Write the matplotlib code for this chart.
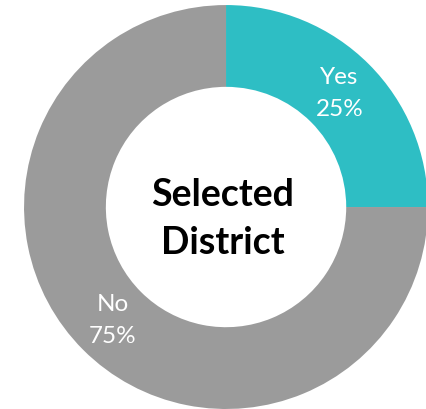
import matplotlib
matplotlib.use("Agg")
import matplotlib.pyplot as plt

categories = ["Yes", "No"]
values = [25, 75]
colors = ["#2EBEC4", "#9B9B9B"]
center_title = "Selected\nDistrict"

plt.rcParams['font.family'] = ['Lato', 'DejaVu Sans']

fig = plt.figure(figsize=(4.26, 4.09), dpi=100)
ax = fig.add_axes([0, 0, 1, 1])

labels = [f"{c}\n{v}%" for c, v in zip(categories, values)]
wedges, texts = ax.pie(values, colors=colors, labels=labels, startangle=90,
                       counterclock=False, radius=1.0, labeldistance=0.795,
                       wedgeprops=dict(width=0.405, linewidth=0),
                       textprops=dict(color="white", fontsize=17.5, ha="center",
                                      va="center", linespacing=1.65))

ax.text(-0.015, -0.06, center_title, ha="center", va="center", fontsize=27,
        fontweight="bold", color="black", linespacing=1.5)

ax.set_xlim(-1.119, 0.990)
ax.set_ylim(-1.0, 1.025)
ax.set_aspect('auto')
ax.axis('off')

fig.savefig("out.png", dpi=100, facecolor="white")
